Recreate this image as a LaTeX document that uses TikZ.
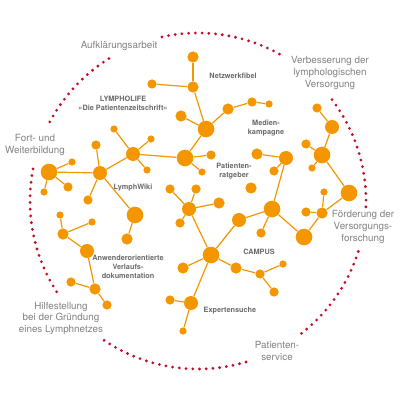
\documentclass[tikz,border=0pt]{standalone}
\usepackage{fontspec}
\setmainfont{TeX Gyre Heros}
\usepackage{xcolor}
\usepackage{tikz}
\definecolor{lyOrange}{RGB}{243,150,0}
\definecolor{lyRed}{RGB}{195,12,42}
\definecolor{lyGrey}{RGB}{130,130,130}
\definecolor{lyDark}{RGB}{105,105,105}

\begin{document}
\begin{tikzpicture}[x=0.025cm, y=-0.025cm,
  knot/.style={circle, fill=lyOrange, inner sep=0pt},
  kHub/.style={knot, minimum size=4.15mm},
  kBig/.style={knot, minimum size=3.5mm},
  kMid/.style={knot, minimum size=2.8mm},
  kSml/.style={knot, minimum size=2.3mm},
  kMin/.style={knot, minimum size=1.8mm},
  link/.style={draw=lyOrange, line width=0.85pt},
  theme/.style={text=lyGrey, align=center, inner sep=0pt,
                font=\fontsize{7}{8.2}\selectfont},
  tag/.style={text=lyDark, align=center, inner sep=0pt,
              font=\fontsize{5.2}{6.2}\selectfont\bfseries}]
\useasboundingbox[fill=white] (0,0) rectangle (400,400);
% --- dotted ring, broken at the themes ---
\foreach \s/\n in {61/18, 122/13, 169/19, 236/22, 308/15, -2/17}
  \foreach \i in {0,...,\n}
    \fill[lyRed] ({198+168*cos(\s+2.3*\i)},{201-168*sin(\s+2.3*\i)}) circle (1.1pt);
% --- themes round the ring ---
\node[theme] (aufkl) at (119,46) {Aufklärungsarbeit};
\node[theme] (verbess) at (330,73) {Verbesserung der\\lymphologischen\\Versorgung};
\node[theme] (fortb) at (35,145) {Fort- und\\Weiterbildung};
\node[theme] (foerd) at (363,227) {Förderung der\\Versorgungs-\\forschung};
\node[theme] (hilfe) at (61,318) {Hilfestellung\\bei der Gründung\\eines Lymphnetzes};
\node[theme] (pservice) at (277,351) {Patienten-\\service};
% --- network nodes ---
\foreach \n/\x/\y/\s in {
    t1/193/57/kMid, t2/152/84/kSml, t3/193/87/kMid, t4/181/116/kMid,
    t5/206/129/kHub, t6/228/109/kMid, t7/252/102/kSml, t8/269/104/kMin,
    t9/185/158/kHub, t10/211/155/kSml, t11/202/172/kMin,
    w1/133/154/kBig, w2/114/129/kMin, w3/151/139/kMin, w4/147/170/kMin,
    w5/100/173/kBig, w6/96/145/kSml, w7/49/172/kHub, w8/72/162/kMin,
    w9/68/187/kSml, w10/44/192/kMin, w11/88/200/kSml, w12/135/215/kHub,
    w13/127/239/kMid,
    a1/60/215/kMin, a2/92/222/kMin, a3/63/234/kMid, a4/87/251/kBig,
    a5/95/289/kMid, a6/71/282/kSml, a7/107/305/kSml,
    m1/257/154/kMid, m2/286/158/kBig, m3/274/171/kSml, m4/251/188/kMid,
    v1/317/108/kSml, v2/332/127/kBig, v3/306/144/kSml, v4/322/155/kHub,
    v5/312/168/kMin, v6/349/193/kHub, v7/324/192/kMin, v8/322/213/kMid,
    v9/306/212/kSml, v10/304/237/kHub, v11/272/209/kHub, v12/261/233/kSml,
    c1/189/209/kBig, c2/170/189/kSml, c3/196/189/kSml, c4/219/203/kMid,
    c5/180/223/kSml, c6/239/220/kBig, c7/211/255/kHub, c8/183/268/kMid,
    c9/236/268/kMid, c10/260/274/kSml, c11/283/264/kMin, c12/274/292/kSml,
    c13/191/303/kBig, c14/170/300/kSml, c15/183/331/kMin}
  \node[\s] (\n) at (\x,\y) {};
% --- links ---
\foreach \a/\b in {t1/t3, t2/t3, t3/t5, t4/t5, t5/t6, t6/t7, t7/t8, t5/t9,
    t9/t10, t9/t11, t9/w1,
    w1/w2, w1/w3, w1/w4, w1/w5, w5/w6, w5/w7, w7/w8, w7/w9, w7/w10,
    w5/w11, w5/w12, w12/w13,
    a3/a1, a3/a2, a3/a4, a4/a5, a5/a6, a5/a7,
    m1/m2, m2/m3, m2/v11,
    v11/c6, v11/v12, v11/v10, v10/v8, v8/v9, v8/v7, v8/v6, v6/v4,
    v4/v2, v4/v3, v4/v5, v2/v1,
    c1/c2, c1/c3, c1/c4, c1/c5, c1/c7, c7/c6, c7/c8, c7/c9, c9/c10,
    c10/c11, c10/c12, c7/c13, c13/c14, c13/c15}
  \draw[link] (\a) -- (\b);
% --- project labels ---
\node[tag] (lymphol) at (123,103) {LYMPHOLIFE\\»Die Patientenzeitschrift«};
\node[tag] (netzf) at (233,76) {Netzwerkfibel};
\node[tag] (medien) at (266,128) {Medien-\\kampagne};
\node[tag] (pratg) at (234,171) {Patienten-\\ratgeber};
\node[tag] (wiki) at (133,188) {LymphWiki};
\node[tag] (anwend) at (128,267) {Anwenderorientierte\\Verlaufs-\\dokumentation};
\node[tag] (campus) at (259,252) {CAMPUS};
\node[tag] (expert) at (230,311) {Expertensuche};
\end{tikzpicture}
\end{document}
